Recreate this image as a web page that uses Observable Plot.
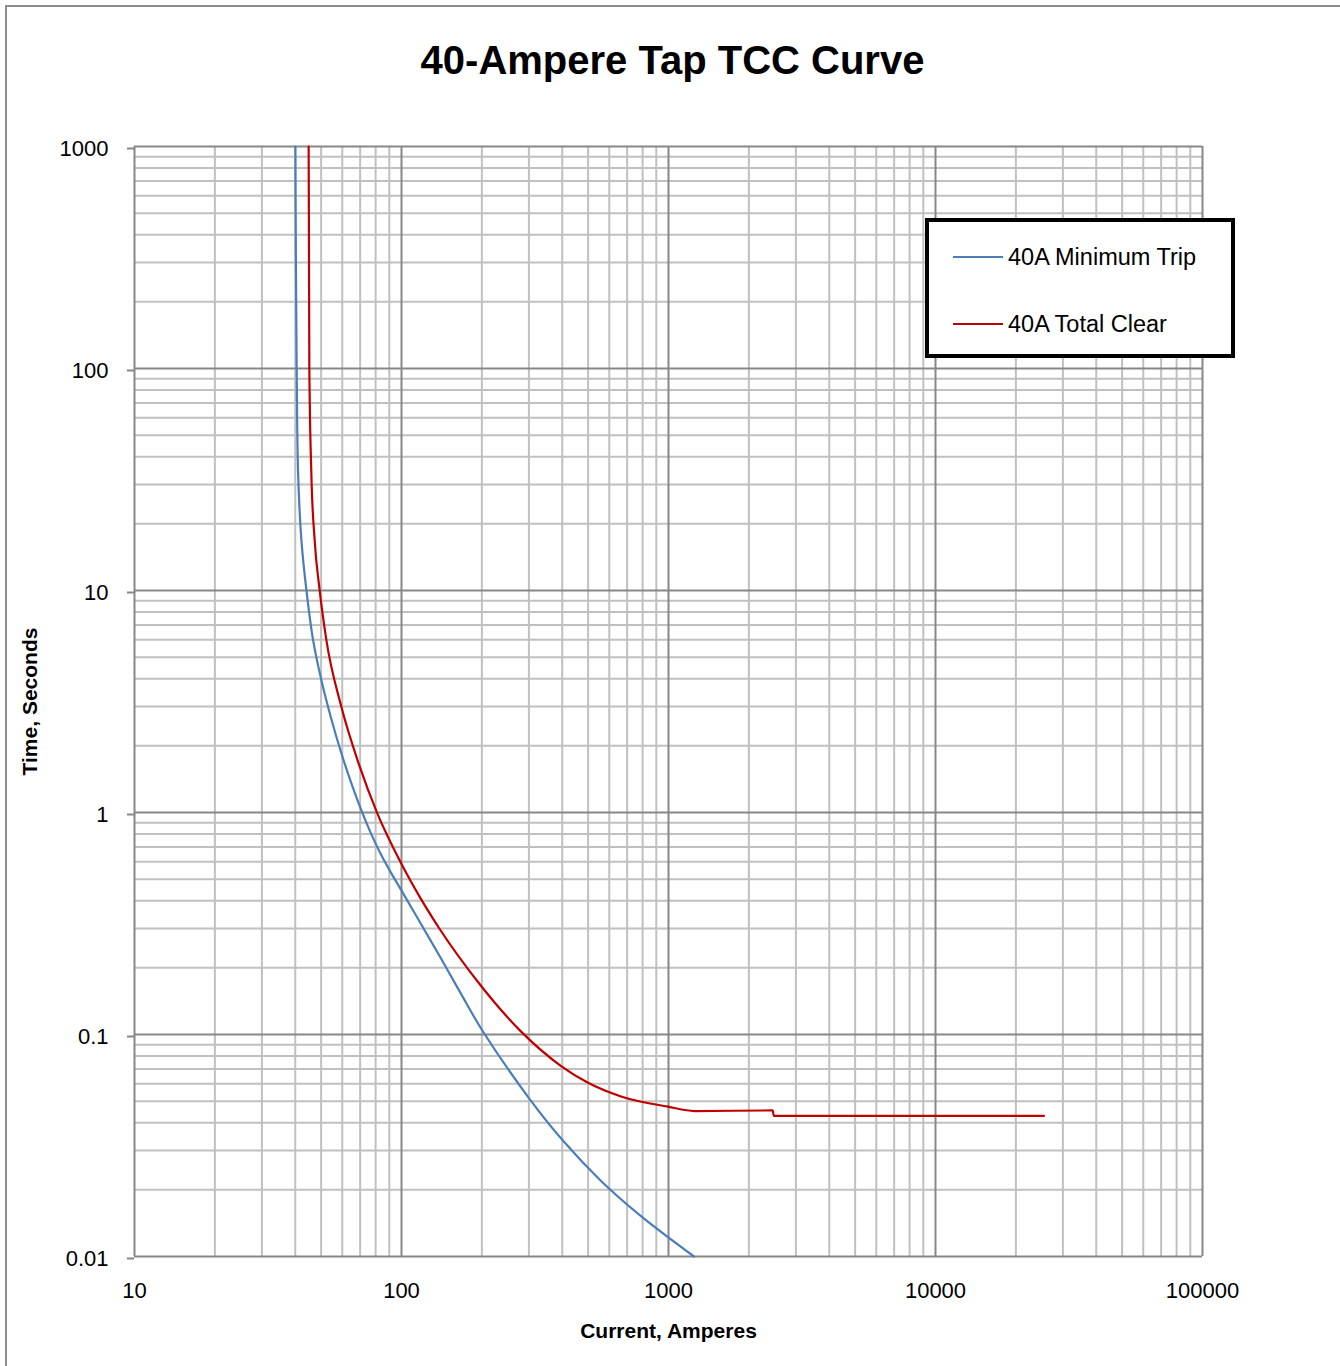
<!DOCTYPE html>
<html>
<head>
<meta charset="utf-8">
<script src="https://cdn.jsdelivr.net/npm/d3@7"></script>
<script src="https://cdn.jsdelivr.net/npm/@observablehq/plot@0.6"></script>
<style>
  html, body { margin: 0; padding: 0; background: #fff; overflow: hidden; }
  #wrap { position: relative; width: 1340px; height: 1366px; overflow: hidden; font-family: "Liberation Sans", Arial, sans-serif; }
  #frame { position: absolute; left: 5px; top: 5px; width: 1400px; height: 1400px; border: 2px solid #8c8c8c; box-sizing: border-box; }
  #chart { position: absolute; left: 0; top: 0; }
  #legend { position: absolute; left: 925px; top: 218px; width: 310px; height: 140px; box-sizing: border-box;
            border: 4px solid #000; background: #fff; }
  .row { position: absolute; left: 0; height: 30px; display: flex; align-items: center; font-size: 23.5px; color: #000; }
  .sw { width: 50px; height: 2px; margin-left: 24px; margin-right: 5px; }
</style>
</head>
<body>
<div id="wrap">
  <div id="frame"></div>
  <div id="chart"></div>
  <div id="legend"></div>
</div>
<script>
// ---- Data ----
const seriesNames = ["40A Minimum Trip", "40A Total Clear"];
const seriesColors = ["#4a7ebb", "#c00000"];

// 40A Minimum Trip: current (A), time (s)
const minTripCurrent = [40.04, 40.22, 40.49, 40.99, 42.17, 44.03, 46.64, 50.09, 54.59, 59.5, 64.86, 70.7, 77.05, 83.98, 91.53, 99.78, 118.6, 140.8, 167.3, 200.5, 300.6, 403, 558.9, 788.9, 1246];
const minTripTime    = [1000, 309.5, 100.8, 33.9, 16.91, 10.06, 5.99, 3.95, 2.637, 1.853, 1.357, 1.025, 0.799, 0.643, 0.533, 0.447, 0.313, 0.2195, 0.152, 0.1045, 0.0516, 0.0332, 0.0219, 0.0152, 0.0100];

// 40A Total Clear: current (A), time (s)
const totalClearCurrent = [44.9, 45.17, 45.95, 47.28, 49.36, 52.3, 59.5, 69.5, 81.18, 99.78, 118.5, 138.4, 193.7, 280.6, 396, 499.7, 664.1, 995.7, 1250, 2454, 2482, 25480];
const totalClearTime    = [1000, 100.8, 33.9, 16.91, 10.06, 5.99, 3.0, 1.629, 0.991, 0.589, 0.406, 0.301, 0.172, 0.103, 0.0721, 0.0606, 0.0526, 0.0473, 0.0452, 0.0455, 0.0430, 0.0430];

// Axis tick values and labels
const xTicks = [10, 100, 1000, 10000, 100000];
const xTickLabels = ["10", "100", "1000", "10000", "100000"];
const yTicks = [0.01, 0.1, 1, 10, 100, 1000];
const yTickLabels = ["0.01", "0.1", "1", "10", "100", "1000"];

const title = "40-Ampere Tap TCC Curve";
const xTitle = "Current, Amperes";
const yTitle = "Time, Seconds";

// ---- Build tables ----
const minTrip = minTripCurrent.map((c, i) => ({current: c, time: minTripTime[i], series: seriesNames[0]}));
const totalClear = totalClearCurrent.map((c, i) => ({current: c, time: totalClearTime[i], series: seriesNames[1]}));

function minorsOf(majors) {
  const out = [];
  for (let i = 0; i < majors.length - 1; i++) for (let k = 2; k <= 9; k++) out.push(majors[i] * k);
  return out;
}
const xMinor = minorsOf(xTicks);
const yMinor = minorsOf(yTicks);

const font = "'Liberation Sans', Arial, sans-serif";

const plot = Plot.plot({
  width: 1340,
  height: 1366,
  marginLeft: 134,
  marginRight: 138,
  marginTop: 146,
  marginBottom: 110,
  style: {fontFamily: font, fontSize: "22px", color: "#000", background: "transparent", overflow: "visible"},
  x: {type: "log", domain: [10, 100000]},
  y: {type: "log", domain: [0.01, 1000]},
  marks: [
    Plot.ruleX(xMinor, {stroke: "#c0c0c0", strokeWidth: 2}),
    Plot.ruleY(yMinor, {stroke: "#c0c0c0", strokeWidth: 2}),
    Plot.ruleX(xTicks, {stroke: "#878787", strokeWidth: 2}),
    Plot.ruleY(yTicks, {stroke: "#878787", strokeWidth: 2}),
    Plot.axisY({ticks: yTicks, tickFormat: (d) => yTickLabels[yTicks.indexOf(d)], tickSize: 7, tickPadding: 19,
                stroke: "#878787", strokeWidth: 2, label: null, fontSize: 22, dy: 2}),
    Plot.axisX({ticks: xTicks, tickFormat: (d) => xTickLabels[xTicks.indexOf(d)], tickSize: 0, tickPadding: 26,
                label: null, fontSize: 22}),
    Plot.line(minTrip, {x: "current", y: "time", stroke: seriesColors[0], strokeWidth: 2.2, curve: "catmull-rom"}),
    Plot.line(totalClear, {x: "current", y: "time", stroke: seriesColors[1], strokeWidth: 2.2, curve: "monotone-x"}),
    Plot.text([title], {frameAnchor: "top", dy: -101, dx: 4, fontSize: 40, fontWeight: "bold", fill: "#000"}),
    Plot.text([xTitle], {frameAnchor: "bottom", dy: 81, fontSize: 21, fontWeight: "bold", fill: "#000"}),
    Plot.text([yTitle], {frameAnchor: "left", dx: -104, rotate: -90, textAnchor: "middle", fontSize: 21, fontWeight: "bold", fill: "#000"})
  ]
});
document.getElementById("chart").appendChild(plot);

// ---- Legend ----
const legend = document.getElementById("legend");
[[0, 20], [1, 87]].forEach(([i, top]) => {
  const row = document.createElement("div");
  row.className = "row";
  row.style.top = top + "px";
  const sw = document.createElement("div");
  sw.className = "sw";
  sw.style.background = seriesColors[i];
  const tx = document.createElement("span");
  tx.textContent = seriesNames[i];
  row.appendChild(sw);
  row.appendChild(tx);
  legend.appendChild(row);
});
</script>
</body>
</html>
